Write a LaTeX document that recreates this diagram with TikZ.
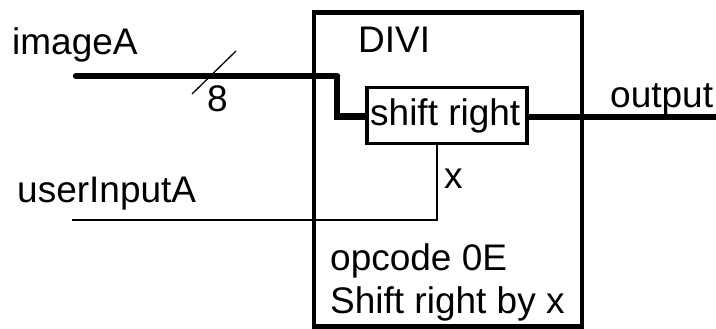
\documentclass[tikz,border=0pt]{standalone}
\usepackage{fontspec}
\setmainfont{Liberation Sans}
\begin{document}
\begin{tikzpicture}[x=1pt,y=-1pt,
  lbl/.style={anchor=base west,inner sep=0pt,font=\fontsize{37}{42}\selectfont},
  bus/.style={line width=6.5pt},
  wire/.style={line width=2.5pt},
  outerbox/.style={draw,line width=4.5pt,minimum width=268pt,minimum height=314pt,inner sep=0pt},
  srbox/.style={draw,line width=3.5pt,minimum width=160pt,minimum height=56pt,inner sep=0pt,font=\fontsize{37}{42}\selectfont}]
\useasboundingbox (0,0) rectangle (716,329);
% outer DIVI block
\node[outerbox] (divi) at (448,169.5) {};
\node[srbox] (sr) at (447,115.5) {};
\node[lbl] (srl) at (370,125) {shift right};
% labels
\node[lbl] (ima) at (12,55) {imageA};
\node[lbl] (uia) at (17,202) {userInputA};
\node[lbl] (divil) at (358,53) {DIVI};
\node[lbl] (outl) at (610,108) {output};
\node[lbl] (eight) at (207,112) {8};
\node[lbl] (xl) at (444,188) {x};
\node[lbl] (op1) at (330,270) {opcode 0E};
\node[lbl] (op2) at (330,313) {Shift right by x};
% coordinates
\coordinate (inA) at (76,76);
\coordinate (bend) at (337,76);
\coordinate (inU) at (72,220);
\coordinate (outR) at (716,117);
\coordinate (s1) at (192,94);
\coordinate (s2) at (236,51);
% imageA bus
\draw[bus,line cap=round] (inA) -- (bend);
\draw[bus] (bend) |- (sr.west |- 0,116.5);
\draw[line width=1.3pt] (s1) -- (s2);
% userInputA
\draw[wire] (inU) -| (sr.south -| 437,0);
% output
\draw[bus] (sr.east |- outR) -- (outR);
\end{tikzpicture}
\end{document}
